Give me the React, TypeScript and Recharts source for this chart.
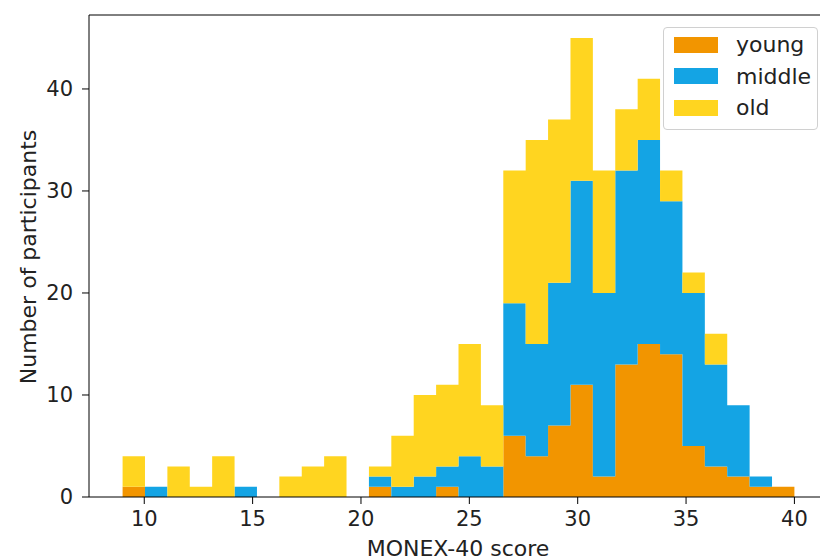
import React from 'react'
import { AreaChart, Area, XAxis, YAxis, ReferenceLine } from 'recharts'

// 30 bins from 9 to 40 (width 31/30)
const binEdges = [
  9, 10.033, 11.067, 12.1, 13.133, 14.167, 15.2, 16.233, 17.267, 18.3,
  19.333, 20.367, 21.4, 22.433, 23.467, 24.5, 25.533, 26.567, 27.6, 28.633,
  29.667, 30.7, 31.733, 32.767, 33.8, 34.833, 35.867, 36.9, 37.933, 38.967, 40,
]

const young = [1, 0, 0, 0, 0, 0, 0, 0, 0, 0, 0, 1, 0, 0, 1, 0, 0, 6, 4, 7, 11, 2, 13, 15, 14, 5, 3, 2, 1, 1]
const middle = [0, 1, 0, 0, 0, 1, 0, 0, 0, 0, 0, 1, 1, 2, 2, 4, 3, 13, 11, 14, 20, 18, 19, 20, 15, 15, 10, 7, 1, 0]
const old = [3, 0, 3, 1, 4, 0, 0, 2, 3, 4, 0, 1, 5, 8, 8, 11, 6, 13, 20, 16, 14, 12, 6, 6, 3, 2, 3, 0, 0, 0]

const xTicks = [10, 15, 20, 25, 30, 35, 40]
const yTicks = [0, 10, 20, 30, 40]

const SERIES = [
  { key: 'young', label: 'young', color: '#F29500' },
  { key: 'middle', label: 'middle', color: '#14A4E4' },
  { key: 'old', label: 'old', color: '#FFD520' },
]

const FONT = 'DejaVu Sans, sans-serif'
const X_DOMAIN: [number, number] = [7.45, 41.55]
const Y_MAX = 47.25

// one point per left bin edge, plus the closing edge repeating the last bin
const data = binEdges.map((x, i) => {
  const j = Math.min(i, young.length - 1)
  return { x, young: young[j], middle: middle[j], old: old[j] }
})

function LegendBox() {
  return (
    <div
      style={{
        position: 'absolute',
        left: 663,
        top: 27,
        width: 155,
        height: 103,
        border: '1px solid #d0d0d0',
        borderRadius: 4,
        background: 'rgba(255,255,255,0.85)',
        boxSizing: 'border-box',
        padding: '1px 0 0 10px',
        fontFamily: FONT,
        fontSize: 22,
        color: '#222',
      }}
    >
      {SERIES.map((s) => (
        <div key={s.key} style={{ display: 'flex', alignItems: 'center', height: 31.5 }}>
          <span style={{ display: 'inline-block', width: 44, height: 16, background: s.color, marginRight: 18 }} />
          <span>{s.label}</span>
        </div>
      ))}
    </div>
  )
}

export default function App() {
  return (
    <div style={{ position: 'absolute', left: 0, top: 0, width: 820, height: 560, overflow: 'hidden', background: '#fff' }}>
      <AreaChart width={830} height={560} data={data} margin={{ top: 15, right: 2, bottom: 0, left: 0 }}>
        <XAxis
          dataKey="x"
          type="number"
          domain={X_DOMAIN}
          ticks={xTicks}
          allowDataOverflow
          height={63}
          stroke="#000"
          tickSize={7}
          tick={{ fill: '#222', fontSize: 21, fontFamily: FONT, dy: 5 }}
          label={{
            content: () => (
              <text x={458} y={548} textAnchor="middle" dominantBaseline="central" fill="#222" fontSize={22} fontFamily={FONT}>
                MONEX-40 score
              </text>
            ),
          }}
        />
        <YAxis
          type="number"
          domain={[0, Y_MAX]}
          ticks={yTicks}
          allowDataOverflow
          width={89}
          stroke="#000"
          tickSize={7}
          tick={{ fill: '#222', fontSize: 21, fontFamily: FONT, dx: -7 }}
          label={{
            content: () => (
              <text x={28} y={257} transform="rotate(-90 28 257)" textAnchor="middle" dominantBaseline="central" fill="#222" fontSize={22} fontFamily={FONT}>
                Number of participants
              </text>
            ),
          }}
        />
        {SERIES.map((s) => (
          <Area
            key={s.key}
            dataKey={s.key}
            name={s.label}
            type="stepAfter"
            stackId="hist"
            fill={s.color}
            fillOpacity={1}
            stroke="none"
            dot={false}
            activeDot={false}
            isAnimationActive={false}
          />
        ))}
        <ReferenceLine y={Y_MAX} stroke="#000" ifOverflow="visible" />
      </AreaChart>
      <LegendBox />
    </div>
  )
}
